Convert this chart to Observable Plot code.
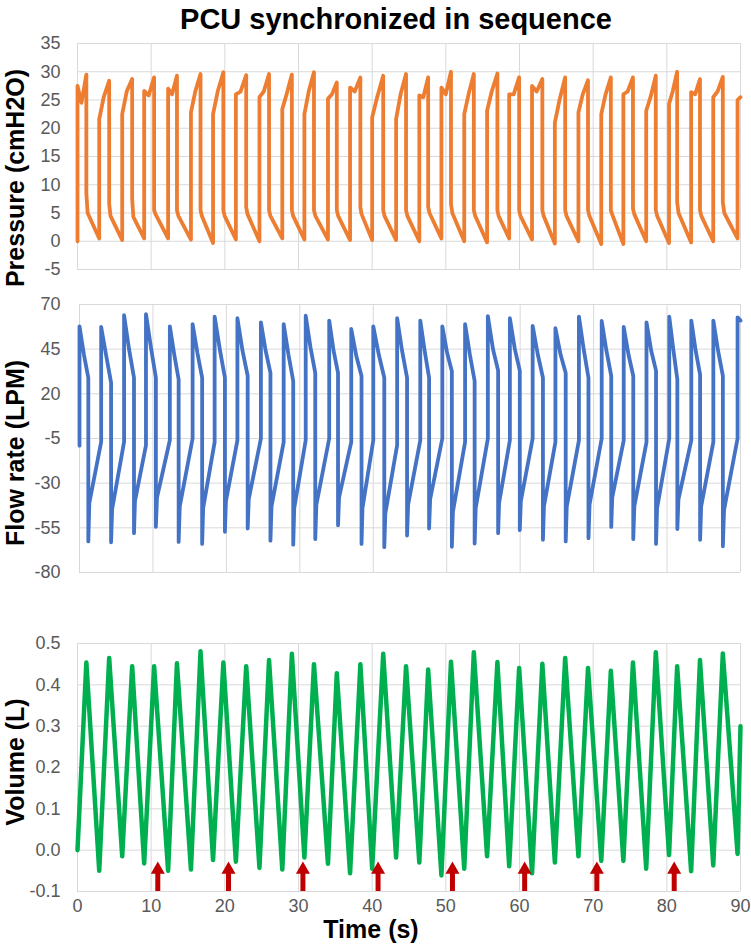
<!DOCTYPE html>
<html>
<head>
<meta charset="utf-8">
<script src="https://cdn.jsdelivr.net/npm/d3@7"></script>
<script src="https://cdn.jsdelivr.net/npm/@observablehq/plot@0.6"></script>
<style>
  html, body { margin: 0; padding: 0; background: #fff; }
  #root { position: relative; width: 751px; height: 944px; overflow: hidden; background: #fff;
          font-family: "Liberation Sans", Arial, Helvetica, sans-serif; }
  .panel { position: absolute; left: 0; }
  .title { position: absolute; left: 0; width: 792px; top: 5px; text-align: center;
           font-size: 29px; line-height: 29px; font-weight: bold; color: #000; }
  .ylab { position: absolute; font-size: 25px; line-height: 25px; font-weight: bold; color: #000;
          white-space: nowrap; transform: translate(-50%, -50%) rotate(-90deg); }
  .xlab { position: absolute; font-size: 25px; line-height: 25px; font-weight: bold; color: #000;
          white-space: nowrap; transform: translate(-50%, -50%); }
</style>
</head>
<body>
<div id="root">
  <div class="title">PCU synchronized in sequence</div>
</div>
<script>
// ---------- axis ticks ----------
const timeTicks = [0, 10, 20, 30, 40, 50, 60, 70, 80, 90];
const pressureTicks = [-5, 0, 5, 10, 15, 20, 25, 30, 35];
const flowTicks = [-80, -55, -30, -5, 20, 45, 70];
const volumeTicks = [-0.1, 0, 0.1, 0.2, 0.3, 0.4, 0.5];

// ---------- breath timing (s) ----------
const tStart = [0, 2.95, 6.07, 9.05, 12.3, 15.4, 18.4, 21.5, 24.7, 27.8, 30.8, 34.0, 37.0, 40.0, 43.25,
  46.4, 49.4, 52.5, 55.6, 58.6, 61.7, 64.8, 68.0, 71.1, 74.1, 77.2, 80.3, 83.3, 86.3, 89.6];
const tEnd = [1.2, 4.3, 7.42, 10.4, 13.5, 16.7, 19.8, 22.9, 26.0, 29.1, 32.1, 35.2, 38.4, 41.5, 44.6,
  47.6, 50.7, 53.8, 57.0, 59.95, 63.1, 66.2, 69.3, 72.4, 75.4, 78.5, 81.4, 84.5, 87.6];

// ---------- pressure (cmH2O) ----------
const pressureStart = 0;
const pressureEnd = 25.5;
const pOnset = [27.5, 21.6, 22.5, 26.6, 27, 22.8, 22.5, 26, 25.5, 23.4, 22.5, 25.2, 27.2, 21.9, 21.6,
  25.8, 27.2, 22.5, 23.1, 26, 27.5, 21, 22.8, 22.5, 26, 23.1, 24.3, 26.4, 25.5, 25];
const pMid = [24.5, 25.5, 26.5, 25.8, 26, 26.5, 26.5, 26.5, 26.5, 26, 26.5, 26, 26.5, 25.5, 26,
  25.5, 26, 26, 26.5, 26, 26.5, 25, 26, 26, 26.5, 25.5, 26.5, 26, 26.5];
const pPeak = [29.5, 28.4, 28.7, 29, 29.3, 29.6, 29.9, 29.4, 29.6, 29.5, 29.9, 28.1, 29, 29.3, 29.6,
  29, 30, 29.6, 29.7, 29, 28.7, 29, 28.5, 29, 29, 29.3, 30, 28.7, 29.1];
const pDrop = [8.5, 6.6, 7.5, 5.5, 5.5, 5.5, 5.5, 6, 5.5, 5.5, 5.5, 5.5, 6, 5.5, 5.5,
  6.1, 6.6, 5.5, 5.5, 5.5, 5.5, 5.5, 5.5, 5.5, 5.8, 5.5, 6.9, 5.5, 6.9];
const pKnee = [5, 4.5, 4.3, 4.8, 4.5, 4.5, 4.5, 4.8, 4.5, 4.5, 4.5, 4.5, 4.8, 4.5, 4.5,
  5, 5, 4.5, 4.5, 4.5, 4.5, 4.5, 4.5, 4.8, 4.8, 4.5, 5, 4.5, 5];
const pBase = [0.5, 0.2, 0.5, 0.5, 0.3, -0.3, 0.3, 0, 0.5, 0.3, 0.3, 0.2, 0.2, 0.2, 0,
  0.5, 0, -0.2, 0.5, 0.3, -0.4, 0, -0.5, -0.5, 0, -0.3, -0.2, 0, 0.5];

// ---------- flow rate (LPM) ----------
const flowStart = -9;
const flowEnd = 61;
const fPeak = [57.8, 57.4, 64, 64.6, 57.8, 59, 63.2, 62.3, 60, 59, 63.7, 61, 56.3, 57.8, 62.3,
  61, 57.8, 59, 63.5, 62.3, 58, 56.7, 63.2, 60.8, 57.4, 60, 63.2, 61, 61, 62.8];
const fMid = [42, 41.6, 45, 46, 42, 43, 45, 44, 44, 42, 46, 44, 41, 42, 44,
  44, 43, 42, 45, 45, 42, 42, 45, 44, 42, 44, 45, 44, 44];
const fEnd = [29, 26.3, 29, 29, 28, 29, 29, 30, 31.7, 27.2, 31.7, 31.7, 30, 29, 29,
  29, 32.6, 27.2, 33, 33, 29, 31.7, 29, 30, 30, 33, 28, 30.8, 30];
const fMin = [-62.6, -63.1, -58, -54.5, -62.9, -64, -57.2, -55.4, -62.2, -64.4, -61.3, -53.6, -64, -65.8, -59.3,
  -55.4, -65.6, -63.8, -58, -56.3, -61.7, -62.6, -60.8, -54.5, -61.3, -64, -55.7, -61.7, -65.3];
const fKnee = [-41, -44.6, -40, -38, -43, -44, -40, -39, -43, -44, -42, -38, -44, -47, -42,
  -39, -46, -44, -41, -40, -43, -43, -42, -38, -43, -44, -39, -43, -45];
const fBase = [-6.9, -6.9, -8.8, -6, -5, -7, -6, -5, -7, -6, -5, -7, -6, -8.7, -6,
  -5, -7, -5, -6, -5, -7, -6, -5, -6, -7, -5, -6, -7, -5];

// ---------- volume (L) ----------
const volumeStart = 0;
const volumeEnd = 0.3;
const vPeak = [0.454, 0.465, 0.445, 0.445, 0.452, 0.481, 0.454, 0.445, 0.46, 0.475, 0.45, 0.428, 0.45, 0.475, 0.445,
  0.437, 0.456, 0.479, 0.455, 0.441, 0.451, 0.465, 0.441, 0.434, 0.454, 0.479, 0.445, 0.46, 0.476];
const vTrough = [-0.05, -0.015, -0.032, -0.05, -0.047, -0.024, -0.028, -0.043, -0.047, -0.018, -0.033, -0.056, -0.045, -0.018, -0.03,
  -0.061, -0.045, -0.015, -0.039, -0.056, -0.03, -0.015, -0.026, -0.026, -0.045, -0.012, -0.051, -0.037, -0.009];

// ---------- arrows (s) ----------
const arrowTimes = [10.9, 20.5, 30.6, 40.8, 50.9, 60.7, 70.5, 81.0];

// ---------- build waveform vertices from the read values ----------
function buildWave(start, end, onset, mid, peak, drop, knee, base, midFrac, kneeFrac) {
  const pts = [];
  for (let i = 0; i < tStart.length; i++) {
    const ts = tStart[i];
    pts.push({t: ts, v: i === 0 ? start : base[i - 1]});
    pts.push({t: ts, v: onset[i]});
    if (i < tEnd.length) {
      const te = tEnd[i], nx = tStart[i + 1];
      pts.push({t: ts + midFrac * (te - ts), v: mid[i]});
      pts.push({t: te, v: peak[i]});
      pts.push({t: te, v: drop[i]});
      pts.push({t: te + kneeFrac * (nx - te), v: knee[i]});
    } else {
      pts.push({t: 90, v: end});
    }
  }
  return pts;
}
const pressureData = buildWave(pressureStart, pressureEnd, pOnset, pMid, pPeak, pDrop, pKnee, pBase, 0.45, 0.1);
const flowData = buildWave(flowStart, flowEnd, fPeak, fMid, fEnd, fMin, fKnee, fBase, 0.5, 0.08);
const volumeData = [{t: 0, v: volumeStart}];
for (let i = 0; i < tEnd.length; i++) {
  volumeData.push({t: tEnd[i], v: vPeak[i]});
  volumeData.push({t: tStart[i + 1], v: vTrough[i]});
}
volumeData.push({t: 90, v: volumeEnd});

// ---------- styling ----------
const GRID = "#d9d9d9";
const axisStyle = {fontFamily: '"Liberation Sans", Arial, Helvetica, sans-serif', fontSize: "18px",
  color: "#595959", background: "transparent", overflow: "visible"};

function panel({top, height, mt, mb, ml, yDomain, yTicks, yFmt, data, color, sw, showX, extra = []}) {
  const chart = Plot.plot({
    width: 751, height,
    marginLeft: ml, marginRight: 11, marginTop: mt, marginBottom: mb,
    style: axisStyle,
    x: {domain: [0, 90], ticks: timeTicks, tickSize: 0, tickPadding: 8, tickFormat: d => String(d),
        label: null, axis: showX ? "bottom" : null},
    y: {domain: yDomain, ticks: yTicks, tickSize: 0, tickPadding: ml - 60, tickFormat: yFmt, label: null},
    marks: [
      Plot.ruleY(yTicks, {y: d => d, stroke: GRID, strokeWidth: 1}),
      Plot.ruleX(timeTicks, {x: d => d, stroke: GRID, strokeWidth: 1}),
      Plot.line(data, {x: "t", y: "v", stroke: color, strokeWidth: sw, strokeLinejoin: "round", strokeLinecap: "round"}),
      ...extra
    ]
  });
  const wrap = document.createElement("div");
  wrap.className = "panel";
  wrap.style.top = top + "px";
  wrap.appendChild(chart);
  document.getElementById("root").appendChild(wrap);
}

panel({top: 30, height: 260, mt: 13, mb: 21, ml: 77, yDomain: [-5, 35], yTicks: pressureTicks,
  yFmt: d => String(d), data: pressureData, color: "#ED7D31", sw: 3.8, showX: false});

panel({top: 290, height: 310, mt: 14, mb: 28, ml: 79, yDomain: [-80, 70], yTicks: flowTicks,
  yFmt: d => String(d), data: flowData, color: "#4472C4", sw: 3.8, showX: false});

panel({top: 610, height: 334, mt: 33, mb: 53, ml: 77, yDomain: [-0.1, 0.5], yTicks: volumeTicks,
  yFmt: d => d.toFixed(1), data: volumeData, color: "#00B050", sw: 4.5, showX: true,
  extra: [
    Plot.ruleX(arrowTimes, {x: d => d, y1: () => -0.1, y2: () => -0.055, stroke: "#C00000", strokeWidth: 5}),
    Plot.dot(arrowTimes, {x: d => d, y: () => -0.047, symbol: "triangle", r: 5.2, fill: "#C00000", stroke: "none"})
  ]});

// ---------- axis titles ----------
function label(cls, text, x, y) {
  const el = document.createElement("div");
  el.className = cls;
  el.textContent = text;
  el.style.left = x + "px";
  el.style.top = y + "px";
  document.getElementById("root").appendChild(el);
}
label("ylab", "Pressure (cmH2O)", 15, 178);
label("ylab", "Flow rate (LPM)", 15, 453);
label("ylab", "Volume (L)", 15, 762);
label("xlab", "Time (s)", 371, 929);
</script>
</body>
</html>
